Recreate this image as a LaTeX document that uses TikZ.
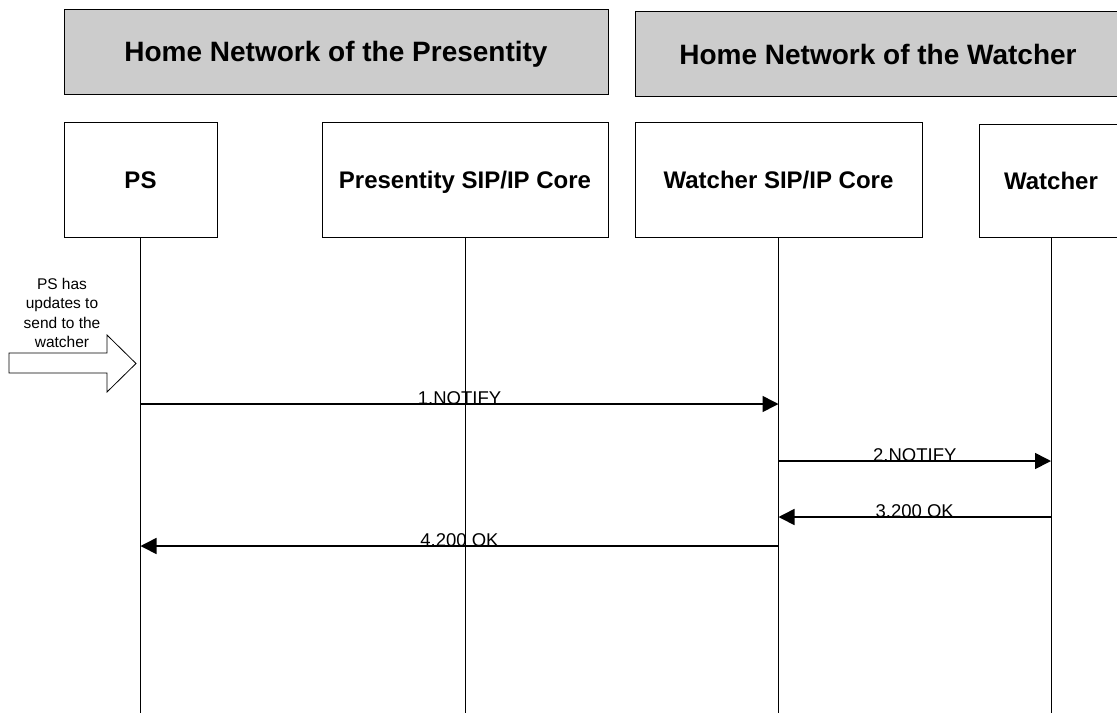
\documentclass[tikz,border=0pt]{standalone}
\usepackage{fontspec}
\setmainfont{Liberation Sans}
\usetikzlibrary{arrows.meta,positioning}
\definecolor{hngray}{RGB}{204,204,204}

\begin{document}
\begin{tikzpicture}[x=1pt,y=-1pt,
  hdr/.style={draw,fill=hngray,line width=1pt,minimum height=85pt,
              text height=20pt,text depth=0pt,
              font=\fontsize{28}{32}\bfseries\selectfont},
  party/.style={draw,line width=0.8pt,minimum height=115pt,
                text height=17pt,text depth=0pt,
                font=\fontsize{24}{28}\bfseries\selectfont},
  life/.style={line width=0.8pt},
  msg/.style={line width=1.6pt,-{Triangle[length=16pt,width=16pt]}},
  lbl/.style={font=\fontsize{18.5}{22}\selectfont,anchor=base,inner sep=0pt}
]
  \useasboundingbox (0,0) rectangle (1117,713);
  % network headers
  \node[hdr,minimum width=544pt] (hnp) at (336,51.5) {Home Network of the Presentity};
  \node[hdr,minimum width=486pt] (hnw) at (878,54) {Home Network of the Watcher};
  % participants
  \node[party,minimum width=153pt] (ps)      at (140.5,179.5) {PS};
  \node[party,minimum width=286pt] (pcore)   at (465,179.5)   {Presentity SIP/IP Core};
  \node[party,minimum width=287pt] (wcore)   at (778.5,179.5) {Watcher SIP/IP Core};
  \node[party,minimum width=144pt,minimum height=113pt] (watcher) at (1051,180.5) {Watcher};
  % lifelines
  \coordinate (bot) at (0,713);
  \foreach \p in {ps,pcore,wcore,watcher}
    \draw[life] (\p.south) -- (\p.south |- bot);
  % trigger
  \draw[line width=0.8pt] (9,353) -- (107,353) -- (107,335) -- (136,363.5)
    -- (107,392) -- (107,373) -- (9,373) -- cycle;
  \node[align=center,font=\fontsize{15.5}{19.5}\selectfont] (note) at (62,313)
    {PS has\\updates to\\send to the\\watcher};
  % messages
  \coordinate (t1) at (0,404);
  \coordinate (t2) at (0,461);
  \coordinate (t3) at (0,517);
  \coordinate (t4) at (0,546);
  \draw[msg] (ps |- t1) -- node[lbl] {1.NOTIFY} (wcore |- t1);
  \draw[msg] (wcore |- t2) -- node[lbl] {2.NOTIFY} (watcher |- t2);
  \draw[msg] (watcher |- t3) -- node[lbl] {3.200 OK} (wcore |- t3);
  \draw[msg] (wcore |- t4) -- node[lbl] {4.200 OK} (ps |- t4);
\end{tikzpicture}
\end{document}
